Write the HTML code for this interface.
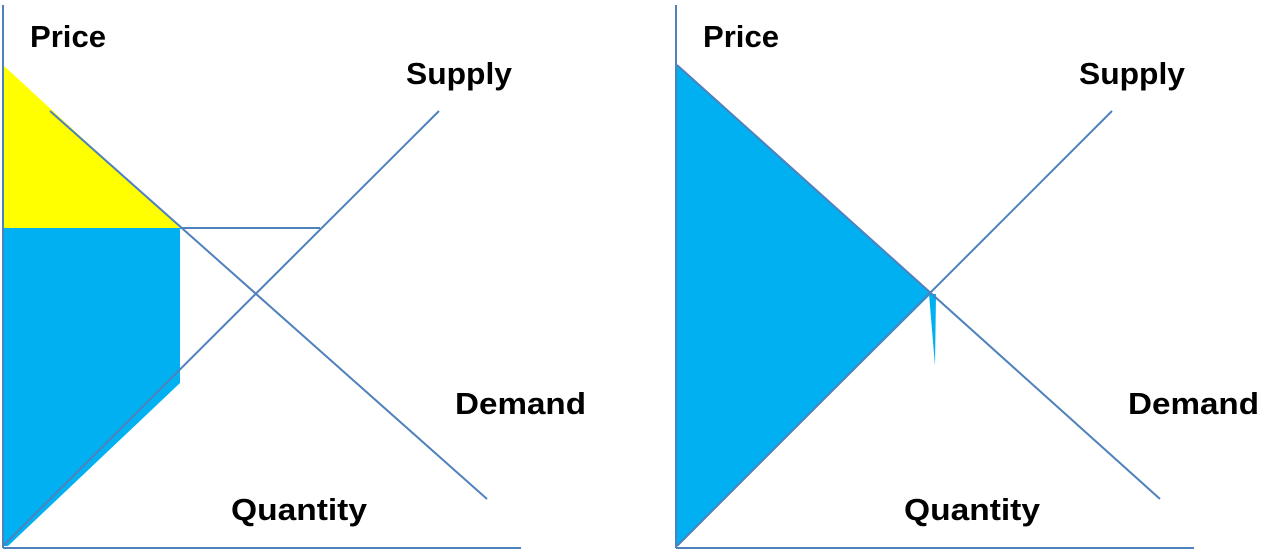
<!DOCTYPE html>
<html><head><style>
body{margin:0;background:#fff;width:1285px;height:550px;overflow:hidden}
text{font-family:"Liberation Sans",sans-serif;font-weight:bold;font-size:31px;fill:#000}
</style></head><body>
<svg width="1285" height="550" xmlns="http://www.w3.org/2000/svg">
<polygon points="3,65 180,228 3,228" fill="#ffff00"/>
<polygon points="3,228 180,228 180,383 8,546 3,546" fill="#00b0f0"/>
<g stroke="#4f81bd" stroke-width="2" fill="none">
<line x1="3" y1="5" x2="3" y2="548"/>
<line x1="3" y1="548" x2="521" y2="548"/>
<line x1="50" y1="111" x2="487" y2="499"/>
<line x1="3" y1="546" x2="439" y2="111"/>
<line x1="180" y1="228" x2="320" y2="228"/>
</g>
<text x="30" y="47" textLength="76" lengthAdjust="spacingAndGlyphs">Price</text>
<text x="406" y="84" textLength="106" lengthAdjust="spacingAndGlyphs">Supply</text>
<text x="455" y="414" textLength="131" lengthAdjust="spacingAndGlyphs">Demand</text>
<text x="231" y="520" textLength="136" lengthAdjust="spacingAndGlyphs">Quantity</text>

<polygon points="677,65 931,294 677,546" fill="#00b0f0"/>
<polygon points="929,294 936,294 935,366" fill="#00b0f0"/>
<g stroke="#4f81bd" stroke-width="2" fill="none">
<line x1="676" y1="5" x2="676" y2="548"/>
<line x1="676" y1="548" x2="1194" y2="548"/>
<line x1="677" y1="65" x2="1160" y2="499"/>
<line x1="677" y1="546" x2="1112" y2="111"/>
</g>
<text x="703" y="47" textLength="76" lengthAdjust="spacingAndGlyphs">Price</text>
<text x="1079" y="84" textLength="106" lengthAdjust="spacingAndGlyphs">Supply</text>
<text x="1128" y="414" textLength="131" lengthAdjust="spacingAndGlyphs">Demand</text>
<text x="904" y="520" textLength="136" lengthAdjust="spacingAndGlyphs">Quantity</text>
</svg>
</body></html>
